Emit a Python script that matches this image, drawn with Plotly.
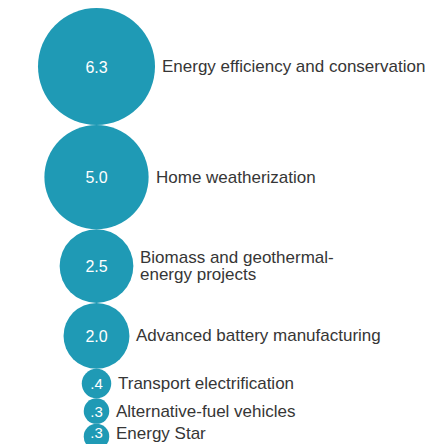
import numpy as np
import plotly.graph_objects as go

categories = ["Energy efficiency and conservation", "Home weatherization",
              ["Biomass and geothermal-", "energy projects"], "Advanced battery manufacturing",
              "Transport electrification", "Alternative-fuel vehicles", "Energy Star"]
values = [6.3, 5.0, 2.5, 2.0, 0.4, 0.3, 0.3]
value_labels = ["6.3", "5.0", "2.5", "2.0", ".4", ".3", ".3"]

W, H = 432, 444
k = 117.0 / np.sqrt(max(values))
diam = k * np.sqrt(np.array(values))
top = 7.0
cy = top + np.cumsum(diam) - diam / 2
cx = np.full(len(values), 96.5)

color = "#1f9ab5"
font_family = "Liberation Sans, Arial, sans-serif"
fig = go.Figure()
fig.add_trace(go.Scatter(
    x=cx, y=cy + 1, mode="markers",
    marker=dict(size=diam, sizemode="diameter", color=color, opacity=1, line=dict(width=0)),
    hoverinfo="skip", showlegend=False, cliponaxis=False,
))
label_y = np.minimum(cy + 3, H - 10)
fig.add_trace(go.Scatter(
    x=cx, y=label_y, mode="text",
    text=value_labels, textposition="middle center",
    textfont=dict(color="white", size=[16, 16, 16, 16, 15, 15, 15], family=font_family),
    hoverinfo="skip", showlegend=False, cliponaxis=False,
))
for i, c in enumerate(categories):
    x0 = cx[i] + diam[i] / 2 + 5
    ty = min(cy[i] + 1, H - 11)
    if isinstance(c, list):
        offsets = [-8.5, 8.5]
        for line, off in zip(c, offsets):
            fig.add_annotation(x=x0, y=ty + off, text=line, showarrow=False,
                               xanchor="left", yanchor="middle", align="left",
                               font=dict(size=17, color="#363636", family=font_family))
    else:
        fig.add_annotation(x=x0, y=ty, text=c, showarrow=False,
                           xanchor="left", yanchor="middle", align="left",
                           font=dict(size=17, color="#363636", family=font_family))

fig.update_layout(
    width=W, height=H, margin=dict(l=0, r=0, t=0, b=0),
    plot_bgcolor="white", paper_bgcolor="white",
    xaxis=dict(range=[0, W], visible=False, fixedrange=True),
    yaxis=dict(range=[H, 0], visible=False, fixedrange=True),
)
fig.write_html("out.html", config={"displayModeBar": False},
               post_script="document.body.style.margin='0';document.body.style.overflow='hidden';")
